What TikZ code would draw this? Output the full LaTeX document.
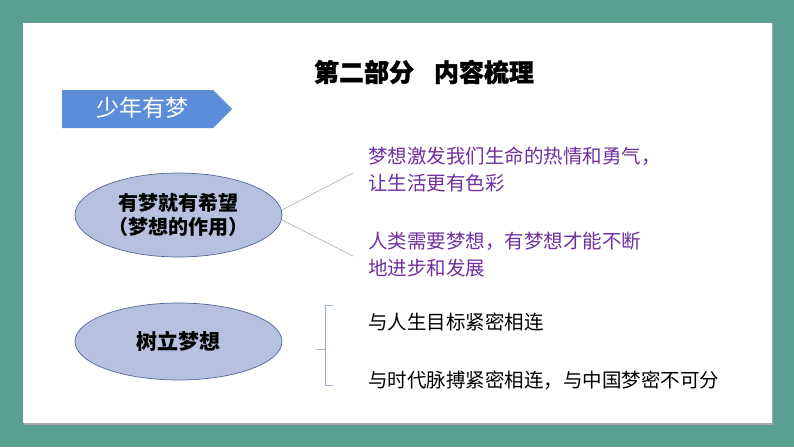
\documentclass[tikz,border=0pt]{standalone}
\usepackage{fontspec}
\setmainfont{Noto Sans CJK SC}
\newfontfamily\titlefont[BoldFeatures={FakeBold=1.2}]{Noto Sans CJK SC}
\usetikzlibrary{shapes.geometric}
\definecolor{teal0}{RGB}{91,158,148}
\definecolor{banner}{RGB}{92,141,216}
\definecolor{ellfill}{RGB}{182,193,224}
\definecolor{ellline}{RGB}{84,104,150}
\definecolor{purp}{RGB}{112,48,160}
\definecolor{conn}{RGB}{160,176,200}
\tikzset{
  oval/.style={ellipse, draw=ellline, line width=0.7pt, fill=ellfill, minimum width=207pt, inner sep=0pt, align=center, font=\fontsize{20}{24}\selectfont\bfseries},
  ptext/.style={anchor=west, align=left, inner sep=0pt, text=purp, font=\fontsize{19.5}{27}\selectfont},
  btext/.style={anchor=west, align=left, inner sep=0pt, text=black, font=\fontsize{19.5}{27}\selectfont},
  connline/.style={draw=conn, line width=0.6pt},
}
\begin{document}
\begin{tikzpicture}[x=1pt,y=-1pt]
\useasboundingbox (0,0) rectangle (794,447);
\fill[teal0] (0,0) rectangle (794,447);
\fill[black!35] (24,24) rectangle (773,425);
\fill[white] (23,23) rectangle (771.5,423);
% title
\node (title) at (424,72) {\titlefont\fontsize{25}{30}\selectfont\bfseries 第二部分\hspace{0.8em}内容梳理};
% banner
\fill[banner] (62,90) -- (213,90) -- (232,109) -- (213,128) -- (62,128) -- cycle;
\node[text=white, font=\fontsize{23}{28}\selectfont] (ban) at (142,108) {少年有梦};
% ellipse 1
\node[oval, minimum height=84pt] (e1) at (178.5,215) {有梦就有希望\\（梦想的作用）};
\coordinate (c1) at (353,173);
\coordinate (c2) at (353,256);
\draw[connline] (282,210) -- (c1);
\draw[connline] (282,220) -- (c2);
\node[ptext] (p1) at (368,169) {梦想激发我们生命的热情和勇气，\\让生活更有色彩};
\node[ptext] (p2) at (368,255) {人类需要梦想，有梦想才能不断\\地进步和发展};
% ellipse 2
\node[oval, minimum height=77pt, font=\fontsize{21}{24}\selectfont\bfseries] (e2) at (178.5,341.5) {树立梦想};
\coordinate (bt) at (325,305);
\coordinate (bb) at (325,385);
\coordinate (bm) at (325,349);
\draw[connline] (333,305) -- (bt) -- (bb) -- (333,385);
\draw[connline] (bm) -- (317,349);
\node[btext] (t1) at (368,322) {与人生目标紧密相连};
\node[btext] (t2) at (368,380) {与时代脉搏紧密相连，与中国梦密不可分};
\end{tikzpicture}
\end{document}
